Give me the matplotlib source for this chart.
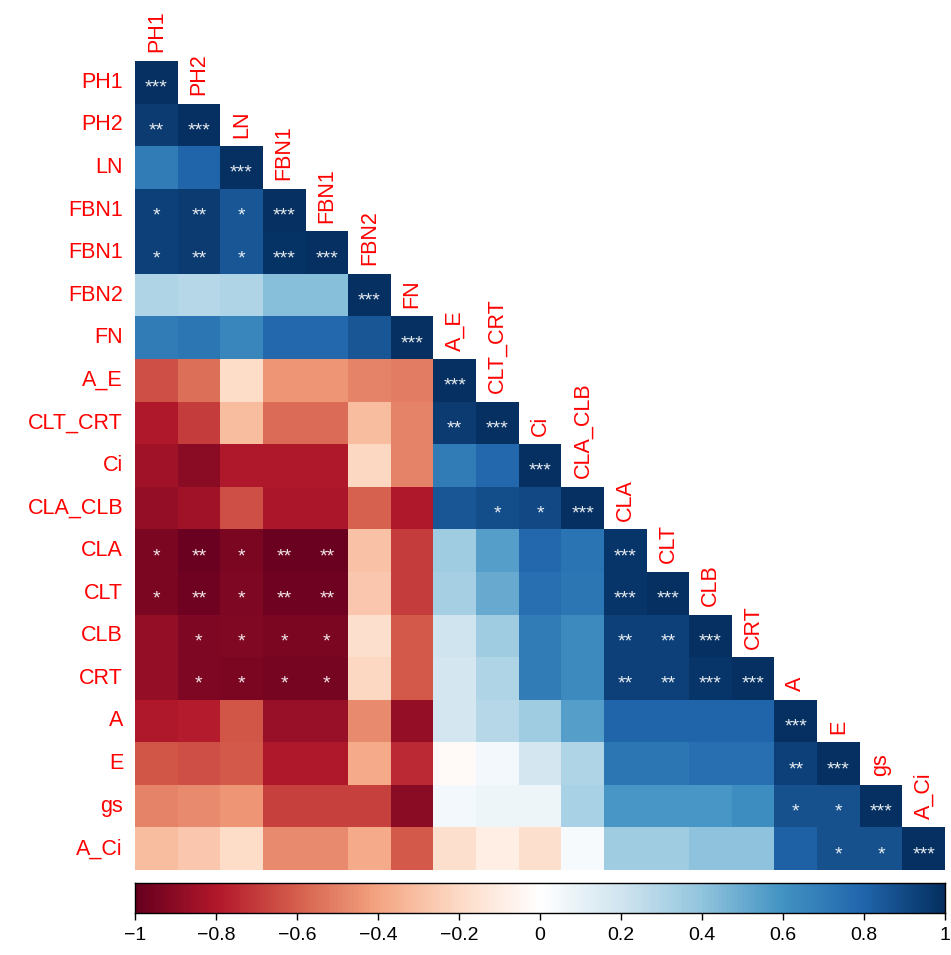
import numpy as np
import matplotlib
matplotlib.use("Agg")
import matplotlib.pyplot as plt
from matplotlib.colors import LinearSegmentedColormap

plt.rcParams['font.family'] = ['Liberation Sans', 'DejaVu Sans']

# variables in plotting order
labels = ["PH1", "PH2", "LN", "FBN1", "FBN1", "FBN2", "FN", "A_E", "CLT_CRT",
          "Ci", "CLA_CLB", "CLA", "CLT", "CLB", "CRT", "A", "E", "gs", "A_Ci"]

# lower triangle of the correlation matrix, one row per variable
corr_rows = [
    [1.00],
    [0.95, 1.00],
    [0.70, 0.80, 1.00],
    [0.93, 0.95, 0.85, 1.00],
    [0.93, 0.95, 0.85, 0.98, 1.00],
    [0.30, 0.28, 0.30, 0.42, 0.42, 1.00],
    [0.70, 0.72, 0.65, 0.78, 0.78, 0.85, 1.00],
    [-0.65, -0.55, -0.20, -0.45, -0.45, -0.50, -0.52, 1.00],
    [-0.80, -0.70, -0.32, -0.57, -0.57, -0.32, -0.50, 0.95, 1.00],
    [-0.85, -0.90, -0.80, -0.80, -0.80, -0.22, -0.50, 0.70, 0.78, 1.00],
    [-0.88, -0.85, -0.65, -0.82, -0.82, -0.60, -0.80, 0.85, 0.88, 0.90, 1.00],
    [-0.95, -0.99, -0.95, -0.99, -0.99, -0.30, -0.70, 0.35, 0.55, 0.78, 0.73, 0.97],
    [-0.95, -0.98, -0.93, -0.98, -0.98, -0.28, -0.70, 0.33, 0.50, 0.75, 0.72, 0.97, 1.00],
    [-0.88, -0.94, -0.92, -0.95, -0.95, -0.18, -0.62, 0.20, 0.35, 0.70, 0.63, 0.93, 0.93, 1.00],
    [-0.88, -0.93, -0.95, -0.96, -0.96, -0.22, -0.62, 0.18, 0.30, 0.70, 0.63, 0.93, 0.93, 0.97, 1.00],
    [-0.80, -0.78, -0.63, -0.87, -0.87, -0.48, -0.88, 0.18, 0.28, 0.35, 0.55, 0.80, 0.80, 0.80, 0.80, 1.00],
    [-0.63, -0.65, -0.62, -0.80, -0.80, -0.38, -0.75, -0.03, 0.05, 0.18, 0.30, 0.72, 0.72, 0.75, 0.75, 0.93, 1.00],
    [-0.50, -0.48, -0.45, -0.68, -0.68, -0.68, -0.90, 0.05, 0.07, 0.07, 0.32, 0.58, 0.58, 0.58, 0.62, 0.87, 0.87, 1.00],
    [-0.32, -0.28, -0.20, -0.48, -0.48, -0.38, -0.62, -0.18, -0.10, -0.18, 0.03, 0.35, 0.35, 0.40, 0.40, 0.82, 0.87, 0.87, 1.00],
]

# significance marks, same layout as corr_rows
sig_rows = [
    ["***"],
    ["**", "***"],
    ["", "", "***"],
    ["*", "**", "*", "***"],
    ["*", "**", "*", "***", "***"],
    ["", "", "", "", "", "***"],
    ["", "", "", "", "", "", "***"],
    ["", "", "", "", "", "", "", "***"],
    ["", "", "", "", "", "", "", "**", "***"],
    ["", "", "", "", "", "", "", "", "", "***"],
    ["", "", "", "", "", "", "", "", "*", "*", "***"],
    ["*", "**", "*", "**", "**", "", "", "", "", "", "", "***"],
    ["*", "**", "*", "**", "**", "", "", "", "", "", "", "***", "***"],
    ["", "*", "*", "*", "*", "", "", "", "", "", "", "**", "**", "***"],
    ["", "*", "*", "*", "*", "", "", "", "", "", "", "**", "**", "***", "***"],
    ["", "", "", "", "", "", "", "", "", "", "", "", "", "", "", "***"],
    ["", "", "", "", "", "", "", "", "", "", "", "", "", "", "", "**", "***"],
    ["", "", "", "", "", "", "", "", "", "", "", "", "", "", "", "*", "*", "***"],
    ["", "", "", "", "", "", "", "", "", "", "", "", "", "", "", "", "*", "*", "***"],
]

# colour legend ticks
cbar_ticks = [-1, -0.8, -0.6, -0.4, -0.2, 0, 0.2, 0.4, 0.6, 0.8, 1]

n = len(labels)
M = np.full((n, n), np.nan)
for i, row in enumerate(corr_rows):
    M[i, :len(row)] = row

cmap = LinearSegmentedColormap.from_list(
    "rdbu2", ["#67001F", "#B2182B", "#D6604D", "#F4A582", "#FDDBC7", "#FFFFFF",
              "#D1E5F0", "#92C5DE", "#4393C3", "#2166AC", "#053061"], N=200)

W, H = 951, 955
fig = plt.figure(figsize=(W / 100, H / 100), dpi=100)

x0, x1, y0, y1 = 135, 945, 61, 870
ax = fig.add_axes([x0 / W, 1 - y1 / H, (x1 - x0) / W, (y1 - y0) / H])
ax.pcolormesh(np.arange(n + 1), np.arange(n + 1), np.ma.masked_invalid(M),
              cmap=cmap, vmin=-1, vmax=1)
ax.set_xlim(0, n)
ax.set_ylim(n, 0)
ax.axis("off")

for i, row in enumerate(sig_rows):
    for j, s in enumerate(row):
        if s:
            ax.text(j + 0.5, i + 0.64, s, color="white", ha="center", va="center",
                    fontsize=14, alpha=0.9)

for i, lab in enumerate(labels):
    ax.text(-0.28, i + 0.5, lab, color="red", ha="right", va="center", fontsize=15.5)
    ax.text(i + 0.5, i - 0.2, lab, color="red", ha="center", va="bottom",
            rotation=90, fontsize=15.5)

# colour legend
cax = fig.add_axes([x0 / W, 1 - 913 / H, (x1 - x0) / W, 30 / H])
grad = np.linspace(-1, 1, 400).reshape(1, -1)
cax.imshow(grad, aspect="auto", cmap=cmap, vmin=-1, vmax=1, extent=[-1, 1, 0, 1])
cax.set_yticks([])
cax.set_xticks(cbar_ticks)
cax.set_xticklabels([f"{t:g}".replace("-", "\u2212") for t in cbar_ticks], fontsize=14)
cax.tick_params(axis="x", length=5, width=1, pad=5)
for sp in cax.spines.values():
    sp.set_linewidth(1)

fig.savefig("out.png", dpi=100)
